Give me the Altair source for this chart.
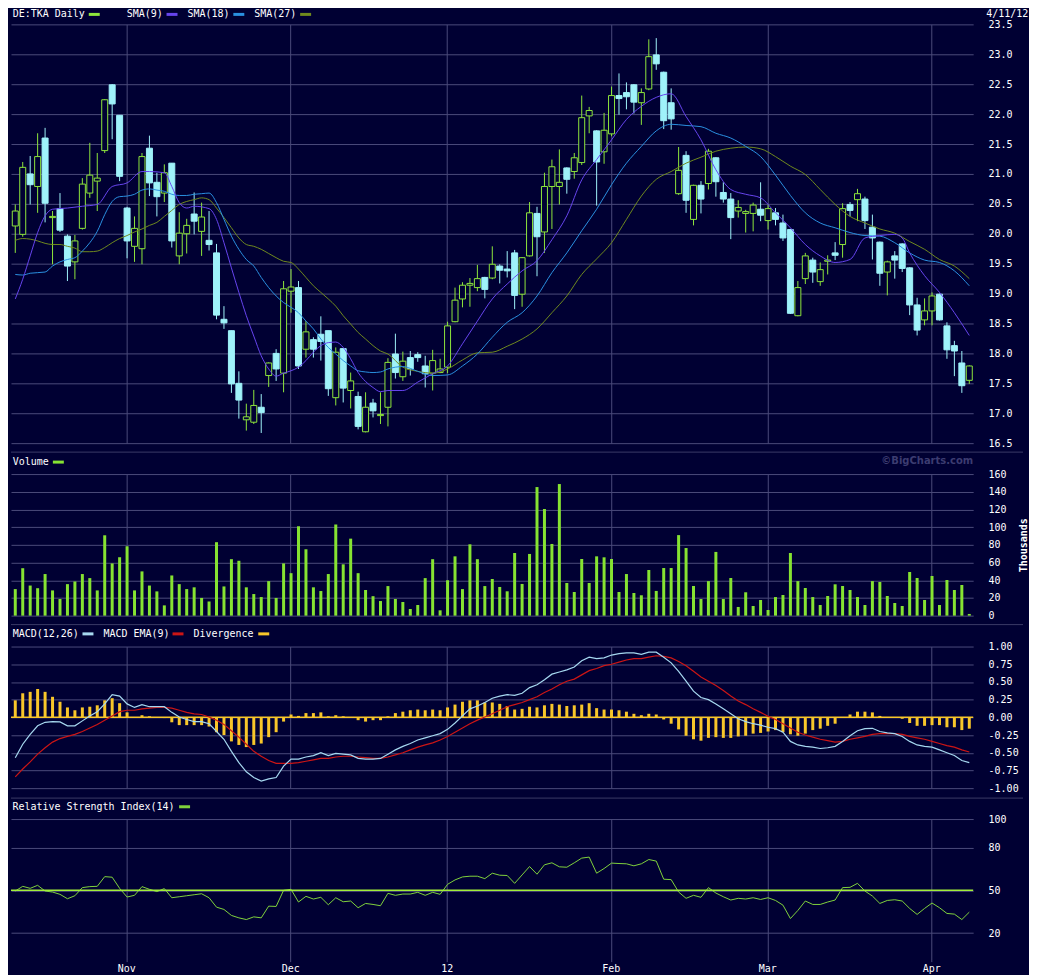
import json
import altair as alt
import numpy as np
import pandas as pd

# ---------------- data ----------------
opens = [20.13,19.99,21.0,20.79,21.6,20.27,20.42,19.96,19.53,20.09,
20.68,20.88,21.39,22.49,21.98,20.43,19.79,19.75,21.43,20.86,
20.68,21.18,19.63,20.0,20.33,20.04,19.89,19.68,18.57,18.38,
17.5,16.89,16.85,17.1,17.63,18.0,17.67,19.04,19.1,18.07,
18.23,18.32,18.38,17.26,18.08,17.38,17.28,16.69,17.17,16.96,
17.1,17.99,17.61,17.93,17.98,17.79,17.67,17.68,17.77,18.53,
18.91,19.14,19.1,19.27,19.26,19.46,19.41,19.68,18.99,19.63,
20.34,20.03,20.79,20.79,21.1,21.04,21.19,21.97,21.72,21.37,
21.67,22.31,22.36,22.49,22.19,22.42,22.99,22.7,22.19,20.67,
21.31,20.24,20.81,20.84,21.27,20.69,20.58,20.38,20.34,20.34,
20.41,20.22,20.35,20.18,20.07,18.63,19.25,19.56,19.2,19.54,
19.68,19.82,20.49,20.57,20.58,20.11,19.86,19.36,19.63,19.83,
19.43,18.81,18.56,18.71,18.99,18.46,18.13,17.84,17.55]

highs = [20.49,21.2,21.3,21.68,21.77,20.38,20.68,19.99,19.98,20.93,
21.52,21.35,22.25,22.5,21.98,20.45,20.29,21.35,21.64,21.02,
21.16,21.18,20.36,20.25,20.69,20.52,20.38,19.83,18.79,18.38,
17.7,17.16,17.39,17.32,17.85,18.07,19.21,19.41,19.21,18.54,
18.27,18.62,18.38,18.1,18.09,17.68,17.36,17.35,17.24,17.35,
17.92,18.33,18.03,18.04,18.02,17.96,18.06,17.91,18.53,19.1,
19.19,19.26,19.48,19.28,19.79,19.49,19.71,19.73,19.61,20.53,
20.45,21.02,21.24,21.41,21.11,21.35,22.31,22.12,21.73,22.02,
22.46,22.68,22.53,22.5,22.43,23.25,23.27,22.71,22.43,21.45,
21.38,20.82,20.88,21.42,21.28,20.86,20.68,20.56,20.4,20.52,
20.86,20.49,20.43,20.32,20.08,19.21,19.68,19.6,19.52,19.64,
19.86,20.51,20.53,20.75,20.62,20.32,19.87,19.55,19.71,19.84,
19.44,18.93,18.92,19.02,19.0,18.52,18.21,18.04,17.8]

lows = [19.68,19.95,20.49,20.35,20.19,19.49,20.03,19.21,19.24,20.07,
20.6,20.38,21.35,21.58,20.88,19.59,19.53,19.49,20.63,20.29,
20.53,19.77,19.49,19.67,19.99,19.63,19.72,18.57,18.41,17.34,
16.91,16.71,16.82,16.67,17.44,17.54,17.35,18.68,17.74,17.93,
17.93,17.88,17.29,17.13,17.18,17.08,16.73,16.68,16.93,16.82,
16.78,17.58,17.54,17.63,17.86,17.43,17.38,17.67,17.67,18.52,
18.77,18.78,19.04,18.92,19.24,19.17,19.27,18.74,18.78,19.62,
19.29,19.68,20.08,20.49,20.67,20.92,21.15,21.68,20.47,21.17,
21.63,21.99,22.08,22.01,21.82,22.4,22.74,21.75,21.74,20.65,
20.35,20.14,20.34,20.74,20.62,20.52,19.91,20.27,20.02,20.04,
20.21,20.07,20.14,19.88,18.66,18.62,19.16,19.18,19.13,19.32,
19.56,19.6,20.29,20.21,20.08,19.57,19.13,18.97,19.25,19.36,
18.64,18.3,18.47,18.47,18.55,17.91,17.62,17.34,17.49]

closes = [20.38,21.11,20.82,21.29,20.51,20.29,20.06,19.46,19.88,20.83,
20.98,20.93,22.24,22.17,20.96,19.88,20.09,21.29,20.85,20.62,
21.02,19.88,20.01,20.14,20.21,20.28,19.82,18.64,18.51,17.49,
17.22,16.94,17.13,17.01,17.84,17.74,19.08,19.11,17.79,18.36,
18.07,18.2,17.41,18.02,17.42,17.54,16.78,17.1,17.04,16.98,
17.85,17.68,17.87,17.74,17.93,17.66,17.88,17.74,18.46,18.89,
19.14,19.17,19.25,19.07,19.49,19.39,19.38,18.97,19.6,20.35,
19.95,20.79,21.12,20.86,20.91,21.27,21.94,22.06,21.2,21.73,
22.31,22.26,22.29,22.2,22.36,22.96,22.84,21.89,21.92,21.06,
20.56,20.81,20.58,21.38,20.87,20.58,20.27,20.44,20.37,20.48,
20.31,20.42,20.24,19.93,18.67,19.1,19.63,19.36,19.4,19.56,
19.64,20.42,20.39,20.67,20.22,19.93,19.34,19.53,19.56,19.42,
18.81,18.39,18.71,18.96,18.56,18.06,18.04,17.46,17.79]

sma9_i = [0,1,2,3,4,5,7,9,11,13,15,17,18,20,21,22,23,24,26,27,28,29,30,31,32,33,34,35,36,37,38,39,40,
          41,42,43,44,45,46,47,48,49,50,52,54,56,58,60,62,64,66,68,70,72,74,76,78,80,82,84,86,88,90,92,
          94,96,98,100,102,104,106,108,110,112,114,116,118,119,120,122,124,126,128]
sma9_v = [18.91,19.24,19.63,20.02,20.3,20.41,20.43,20.46,20.49,20.79,20.85,21.04,21.04,21.02,20.79,20.52,
          20.43,20.46,20.42,20.24,19.85,19.43,19.02,18.63,18.29,17.96,17.74,17.62,17.67,17.71,17.77,17.88,
          18.02,18.13,18.18,18.19,18.1,17.91,17.68,17.53,17.43,17.36,17.38,17.38,17.52,17.66,17.79,18.16,
          18.54,18.91,19.16,19.38,19.55,19.9,20.3,20.9,21.24,21.57,21.91,22.13,22.28,22.34,21.96,21.57,
          21.07,20.74,20.66,20.6,20.35,20.1,19.82,19.63,19.52,19.57,19.93,19.97,19.99,19.93,19.68,19.3,
          19.02,18.68,18.3]

sma18_i = [0,1,2,4,5,6,7,8,9,10,11,12,13,14,15,16,17,18,19,20,21,22,23,24,25,26,27,28,29,30,31,32,33,
           34,35,36,37,38,39,40,41,42,43,44,45,46,47,48,49,50,52,54,56,58,60,62,64,66,68,70,72,74,76,78,
           80,82,84,86,88,90,92,94,96,98,100,102,104,106,108,110,112,114,116,118,120,122,124,126,128]
sma18_v = [19.32,19.31,19.34,19.36,19.46,19.53,19.57,19.6,19.71,19.85,20.04,20.32,20.54,20.62,20.63,20.66,
           20.73,20.75,20.73,20.71,20.66,20.64,20.64,20.66,20.67,20.68,20.52,20.24,19.96,19.74,19.57,19.46,
           19.27,19.1,18.96,18.85,18.77,18.68,18.54,18.41,18.24,18.1,17.99,17.88,17.79,17.71,17.69,17.68,
           17.69,17.74,17.78,17.7,17.63,17.64,17.79,17.99,18.27,18.52,18.68,18.96,19.35,19.68,20.05,20.41,
           20.82,21.18,21.46,21.72,21.83,21.81,21.79,21.68,21.6,21.46,21.29,20.98,20.64,20.35,20.18,20.1,
           20.02,19.97,19.96,19.85,19.68,19.56,19.52,19.38,19.13]

sma27_i = list(range(0, 51)) + list(range(52, 129, 2))
sma27_v = [19.89,19.92,19.91,19.88,19.84,19.82,19.82,19.79,19.76,19.7,19.7,19.71,19.77,19.85,19.92,19.97,
           20.03,20.08,20.14,20.19,20.29,20.39,20.49,20.54,20.57,20.6,20.57,20.43,20.27,20.1,19.93,19.82,
           19.79,19.74,19.67,19.6,19.54,19.52,19.41,19.27,19.13,19.02,18.91,18.79,18.63,18.49,18.35,18.24,
           18.13,18.04,17.99,17.77,17.7,17.67,17.74,17.89,18.01,18.02,18.12,18.24,18.41,18.68,18.96,19.32,
           19.58,19.85,20.24,20.63,20.91,21.04,21.18,21.28,21.38,21.43,21.45,21.42,21.29,21.13,20.99,20.74,
           20.49,20.29,20.18,20.08,20.01,19.87,19.74,19.57,19.46,19.25]

volume = [30,53.6,34,31,47,28.5,18.8,35.6,38.6,47,
42.4,28.5,90.8,59,66,78.4,28.5,50,34,27.4,
11.6,45.4,35.6,30,32,20,16,83,33,63.8,
62,32,24.4,21,39,20,59,48,101,75,
32,27.8,47,103,58,87,48,29,22,16.5,
33.4,18.8,15.4,7.5,12,42.4,63.8,6,40,67,
30,80.6,63.8,33.4,41.4,32.4,27.5,70.8,35.8,69.7,
145.3,120.5,81,148.7,36.9,26.7,64,36.9,67,65.9,
64,26.7,47,25.6,23,51.6,27.9,53.8,53.8,91,
76.4,33.5,18.8,39,72,18.8,42.5,9.8,26.4,10.9,
17.7,6.4,21,23.3,70.8,39,31.2,21,12,22.2,
35.4,33.5,29,21,12,39,38,22.2,14.3,10.9,
49.3,42.5,17.7,44.8,12,40.3,29,34.6,1.9]

macd = [-0.57,-0.38,-0.24,-0.12,-0.07,-0.06,-0.065,-0.12,-0.12,-0.05,
0.02,0.08,0.19,0.32,0.3,0.19,0.14,0.18,0.15,0.15,
0.15,0.07,0.005,-0.03,-0.06,-0.06,-0.09,-0.2,-0.31,-0.48,
-0.64,-0.77,-0.85,-0.9,-0.87,-0.85,-0.69,-0.59,-0.59,-0.56,
-0.54,-0.5,-0.54,-0.51,-0.52,-0.53,-0.58,-0.59,-0.59,-0.58,
-0.52,-0.46,-0.41,-0.37,-0.32,-0.29,-0.26,-0.23,-0.17,-0.08,
0.02,0.12,0.16,0.21,0.27,0.3,0.32,0.31,0.34,0.42,
0.46,0.53,0.61,0.64,0.67,0.71,0.8,0.85,0.83,0.84,
0.88,0.9,0.91,0.91,0.89,0.92,0.92,0.85,0.77,0.65,
0.51,0.37,0.28,0.25,0.19,0.12,0.05,-0.02,-0.06,-0.09,
-0.11,-0.14,-0.16,-0.21,-0.34,-0.39,-0.41,-0.42,-0.44,-0.43,
-0.41,-0.34,-0.26,-0.19,-0.16,-0.155,-0.2,-0.22,-0.23,-0.27,
-0.34,-0.39,-0.41,-0.42,-0.46,-0.5,-0.54,-0.61,-0.64]

macd_ema = [-0.84,-0.73,-0.63,-0.52,-0.43,-0.35,-0.3,-0.27,-0.24,-0.2,
-0.15,-0.1,-0.04,0.02,0.08,0.1,0.1,0.12,0.13,0.14,
0.14,0.13,0.1,0.07,0.05,0.04,0.005,-0.04,-0.1,-0.19,
-0.28,-0.38,-0.48,-0.55,-0.61,-0.65,-0.65,-0.65,-0.64,-0.62,
-0.6,-0.58,-0.58,-0.56,-0.55,-0.55,-0.56,-0.57,-0.58,-0.58,
-0.56,-0.53,-0.5,-0.46,-0.42,-0.39,-0.36,-0.32,-0.27,-0.21,
-0.15,-0.09,-0.04,0.005,0.05,0.1,0.15,0.18,0.21,0.25,
0.29,0.35,0.4,0.46,0.51,0.54,0.6,0.66,0.69,0.73,
0.75,0.78,0.81,0.83,0.83,0.85,0.87,0.86,0.84,0.79,
0.73,0.65,0.57,0.51,0.45,0.38,0.3,0.23,0.18,0.12,
0.07,0.015,-0.03,-0.09,-0.15,-0.21,-0.25,-0.28,-0.31,-0.33,
-0.35,-0.34,-0.31,-0.29,-0.27,-0.24,-0.23,-0.23,-0.23,-0.24,
-0.27,-0.29,-0.31,-0.34,-0.37,-0.4,-0.42,-0.46,-0.49]

divergence = [0.24,0.34,0.36,0.40,0.36,0.29,0.22,0.14,0.10,0.14,
0.15,0.17,0.24,0.27,0.20,0.07,0.005,0.03,0.015,0.005,
-0.01,-0.07,-0.11,-0.11,-0.11,-0.11,-0.13,-0.21,-0.25,-0.34,
-0.39,-0.42,-0.39,-0.37,-0.28,-0.21,-0.06,0.04,0.02,0.06,
0.06,0.07,0.015,0.03,0.015,0.0,-0.04,-0.06,-0.04,-0.04,
0.015,0.06,0.08,0.10,0.11,0.10,0.11,0.10,0.14,0.18,
0.22,0.24,0.24,0.21,0.21,0.19,0.16,0.11,0.12,0.15,
0.14,0.17,0.19,0.18,0.16,0.17,0.18,0.20,0.13,0.11,
0.11,0.10,0.08,0.05,0.03,0.05,0.04,-0.03,-0.09,-0.17,
-0.26,-0.31,-0.33,-0.29,-0.28,-0.29,-0.29,-0.27,-0.26,-0.23,
-0.22,-0.20,-0.18,-0.21,-0.24,-0.26,-0.23,-0.18,-0.16,-0.12,
-0.09,0.005,0.04,0.08,0.08,0.07,0.02,0.0,0.0,-0.02,
-0.08,-0.12,-0.12,-0.11,-0.11,-0.14,-0.14,-0.18,-0.16]

rsi = [49.5,52.8,51.4,53.5,49.5,48.8,47.2,44.1,46.2,51.9,
52.6,52.8,59.6,59.2,51.4,45.3,46.5,52.6,50.7,49.1,
51.2,44.8,45.5,46.2,46.9,47.6,44.8,38.2,36.6,32.4,
30.7,29.5,31.4,30.7,38.9,38.7,50,50.7,41.8,45.8,
43.9,45.1,39.9,44.8,42,42.5,37.8,40.8,40.1,39.2,
47.9,46.5,47.4,47.4,48.6,46.5,48.6,47.2,54.2,57.3,
59.4,59.9,59.9,58.2,62,60.6,60.4,54.9,60.8,66.7,
61.3,67.9,69.3,66.5,66.2,69.3,72.6,73.3,62,65.3,
69.1,68.8,68.6,67.2,68.6,71.6,70.5,57.8,57.5,48.8,
44.4,46.5,45.1,51.9,48.1,45.5,43.2,44.4,43.9,44.8,
43.6,44.8,42.9,39.6,30.2,35.9,42.5,40.1,40.1,41.8,
43.2,51.9,52.1,54.9,49.5,46,40.8,42.9,43.4,42.5,
37.3,33.1,37.3,41.1,37.8,33.8,33.3,29.5,34.7]

month_pos = [14.9, 36.9, 57.9, 79.9, 100.9, 122.9]   # first trading day of each month
month_lbl = ["Nov", "Dec", "12", "Feb", "Mar", "Apr"]

price_ticks = [16.5 + 0.5 * k for k in range(15)]
vol_ticks = list(range(0, 161, 20))
macd_ticks = [-1 + 0.25 * k for k in range(9)]
rsi_ticks = [20, 50, 80, 100]

N = len(closes)
for arr in (opens, highs, lows, volume, macd, macd_ema, divergence, rsi):
    assert len(arr) == N, len(arr)
assert len(sma9_i) == len(sma9_v), (len(sma9_i), len(sma9_v))
assert len(sma18_i) == len(sma18_v), (len(sma18_i), len(sma18_v))
assert len(sma27_i) == len(sma27_v), (len(sma27_i), len(sma27_v))

# ---------------- style ----------------
BG = "#000033"
GRID = "#4a4a7a"
SEP = "#3a3a66"
TEXT = "#ffffff"
MONO = "DejaVu Sans Mono"
GREEN = "#8ee63c"
CYAN = "#9ff2fa"
PURPLE = "#6644ee"
BLUE = "#2a90e0"
OLIVE = "#6f8a1e"
VOLG = "#86e332"
LBLUE = "#a6d8f0"
RED = "#cc1515"
GOLD = "#f8c62a"
RSIG = "#7fd23c"
RSI50 = "#a2ee3a"

W = 965
XDOM = [-0.575, 128.52]
MONTH_EXPR = f"{json.dumps(month_lbl)}[indexof({json.dumps(month_pos)}, datum.value)]"
TOPY = -10   # legend row of the price panel

idx = list(range(N))
cdf = pd.DataFrame({"i": idx, "open": opens, "high": highs, "low": lows, "close": closes})
cdf["dir"] = np.where(cdf["close"] >= cdf["open"], "up", "down")
ONE = pd.DataFrame({"k": [0]})


def X(labels=False):
    return alt.X("i:Q", scale=alt.Scale(domain=XDOM, nice=False, zero=False, padding=0),
                 axis=alt.Axis(values=month_pos, grid=True, labels=labels, labelExpr=MONTH_EXPR,
                               title=None, domain=False, ticks=False, tickSize=0, labelPadding=2))


def text(label, x, y, **kw):
    props = dict(align="left", baseline="middle", font=MONO, fontSize=10, color=TEXT)
    props.update(kw)
    return alt.Chart(ONE).mark_text(**props).encode(x=alt.value(x), y=alt.value(y), text=alt.value(label))


def swatch(color, x, y):
    return alt.Chart(ONE).mark_rule(color=color, strokeWidth=3).encode(
        x=alt.value(x), x2=alt.value(x + 11), y=alt.value(y))


def sep(y):
    return alt.Chart(ONE).mark_rule(color=SEP, strokeWidth=1).encode(
        x=alt.value(0), x2=alt.value(1015), y=alt.value(y))


# ---------------- price panel ----------------
p_scale = alt.Scale(domain=[16.5, 23.5], nice=False, zero=False, padding=0)
p_axis = alt.Axis(orient="right", values=price_ticks, format=".1f", title=None, grid=True,
                  labelPadding=15, domain=False, ticks=False, tickSize=0)

wick = alt.Chart(cdf).mark_rule(strokeWidth=1).encode(
    x=X(), y=alt.Y("low:Q", scale=p_scale, axis=p_axis), y2="high:Q",
    color=alt.Color("dir:N", scale=alt.Scale(domain=["up", "down"], range=[GREEN, CYAN]), legend=None))
body = alt.Chart(cdf).mark_bar(size=6, strokeWidth=1).encode(
    x=X(), y=alt.Y("open:Q", scale=p_scale, axis=p_axis), y2="close:Q",
    fill=alt.Fill("dir:N", scale=alt.Scale(domain=["up", "down"], range=[BG, CYAN]), legend=None),
    stroke=alt.Stroke("dir:N", scale=alt.Scale(domain=["up", "down"], range=[GREEN, CYAN]), legend=None))


def sma_line(ii, vv, color):
    d = pd.DataFrame({"i": ii, "v": vv})
    return alt.Chart(d).mark_line(color=color, strokeWidth=1, interpolate="monotone").encode(
        x=X(), y=alt.Y("v:Q", scale=p_scale, axis=p_axis))


price = alt.layer(
    wick, body,
    sma_line(sma27_i, sma27_v, OLIVE),
    sma_line(sma18_i, sma18_v, BLUE),
    sma_line(sma9_i, sma9_v, PURPLE),
    text("DE:TKA Daily", 1.7, TOPY), swatch(GREEN, 78, TOPY),
    text("SMA(9)", 116, TOPY), swatch(PURPLE, 156, TOPY),
    text("SMA(18)", 177, TOPY), swatch(BLUE, 223, TOPY),
    text("SMA(27)", 244, TOPY), swatch(OLIVE, 290, TOPY),
    text("4/11/12", 978, TOPY),
).properties(width=W, height=420)

# ---------------- volume panel ----------------
vdf = pd.DataFrame({"i": idx, "vol": volume})
v_scale = alt.Scale(domain=[0, 160], nice=False, padding=0)
v_axis = alt.Axis(orient="right", values=vol_ticks, title="Thousands", titleAngle=270, titleX=50, titleY=71,
                  titleAlign="center", titleBaseline="middle", grid=True, labelPadding=15,
                  domain=False, ticks=False, tickSize=0)
vol = alt.layer(
    alt.Chart(vdf).mark_bar(size=3, color=VOLG).encode(x=X(), y=alt.Y("vol:Q", scale=v_scale, axis=v_axis)),
    sep(-22),
    text("Volume", 1.7, -12), swatch(VOLG, 42, -12),
    text("©BigCharts.com", 965, -13, align="right", font="DejaVu Sans", fontWeight="bold", color="#3c3c70"),
).properties(width=W, height=142)

# ---------------- MACD panel ----------------
mdf = pd.DataFrame({"i": idx, "macd": macd, "ema": macd_ema, "div": divergence})
m_scale = alt.Scale(domain=[-1, 1], nice=False, zero=False, padding=0)
m_axis = alt.Axis(orient="right", values=macd_ticks, labelExpr="replace(format(datum.value, '.2f'), '\u2212', '-')",
                  title=None, grid=True, labelPadding=15, domain=False, ticks=False, tickSize=0)
macd_chart = alt.layer(
    alt.Chart(mdf).mark_bar(size=3, color=GOLD).encode(x=X(), y=alt.Y("div:Q", scale=m_scale, axis=m_axis)),
    alt.Chart(ONE).mark_rule(color=GOLD, strokeWidth=1.5).encode(y=alt.Y(datum=0, scale=m_scale, axis=m_axis)),
    alt.Chart(mdf).mark_line(color=RED, strokeWidth=1.2).encode(x=X(), y=alt.Y("ema:Q", scale=m_scale, axis=m_axis)),
    alt.Chart(mdf).mark_line(color=LBLUE, strokeWidth=1.2).encode(x=X(), y=alt.Y("macd:Q", scale=m_scale, axis=m_axis)),
    sep(-22),
    text("MACD(12,26)", 1.7, -12.7), swatch(LBLUE, 71.7, -12.7),
    text("MACD EMA(9)", 92.7, -12.7), swatch(RED, 162, -12.7),
    text("Divergence", 183, -12.7), swatch(GOLD, 248, -12.7),
).properties(width=W, height=142)

# ---------------- RSI panel ----------------
rdf = pd.DataFrame({"i": idx, "rsi": rsi})
r_scale = alt.Scale(domain=[0, 100], nice=False, padding=0)
r_axis = alt.Axis(orient="right", values=rsi_ticks, title=None, grid=True, labelPadding=15,
                  domain=False, ticks=False, tickSize=0)
rsi_chart = alt.layer(
    alt.Chart(rdf).mark_line(color=RSIG, strokeWidth=1).encode(x=X(True), y=alt.Y("rsi:Q", scale=r_scale, axis=r_axis)),
    alt.Chart(ONE).mark_rule(color=RSI50, strokeWidth=1.5).encode(y=alt.Y(datum=50, scale=r_scale, axis=r_axis)),
    sep(-21),
    text("Relative Strength Index(14)", 1.5, -12.3), swatch(RSIG, 168.6, -12.3),
).properties(width=W, height=143)

chart = alt.vconcat(price, vol, macd_chart, rsi_chart, spacing=31, bounds="flush").properties(
    background=BG, padding={"left": 2, "top": 0, "right": 0, "bottom": 0}
).configure_view(stroke=None).configure_axis(
    gridColor=GRID, gridOpacity=1, gridWidth=1, labelColor=TEXT, labelFont=MONO, labelFontSize=10,
    titleColor=TEXT, titleFont=MONO, titleFontSize=10, domain=False, ticks=False
)

chart.save("out.html", embed_options={"renderer": "svg", "actions": False})
